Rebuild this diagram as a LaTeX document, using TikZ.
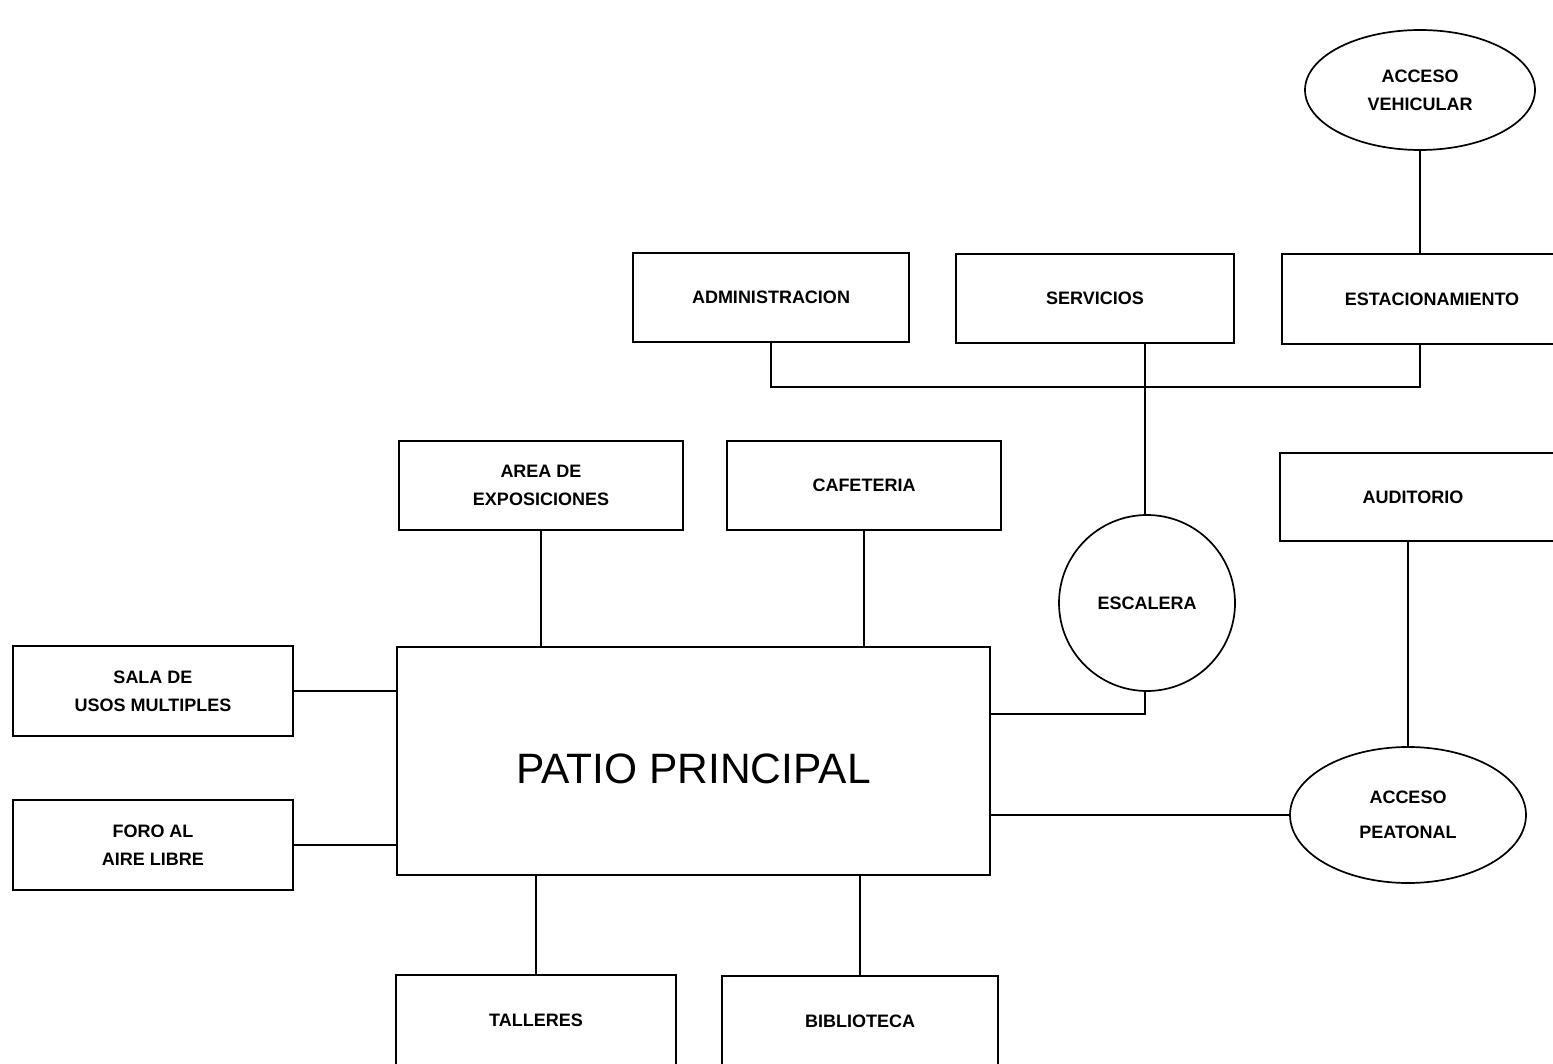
\documentclass[tikz,border=0pt]{standalone}
\usepackage{fontspec}
\setmainfont{Liberation Sans}
\usetikzlibrary{shapes.geometric}
\begin{document}
\begin{tikzpicture}[x=1pt,y=-1pt,
  every node/.style={line width=1.7pt, draw=black, inner sep=2pt},
  lbl/.style={font=\fontsize{18}{28}\selectfont\bfseries, align=center},
  box/.style={rectangle, lbl},
  oval/.style={ellipse, lbl},
  conn/.style={line width=1.7pt}]
\useasboundingbox (0,0) rectangle (1553,1064);
\clip (0,0) rectangle (1553,1064);
\fill[white] (0,0) rectangle (1553,1064);

% nodes
\node[oval, minimum width=230pt, minimum height=120pt] (av) at (1420,90) {ACCESO\\VEHICULAR};
\node[box, minimum width=276pt, minimum height=89pt] (adm) at (771,297.5) {ADMINISTRACION};
\node[box, minimum width=278pt, minimum height=89pt] (serv) at (1095,298.5) {SERVICIOS};
\node[box, minimum width=300pt, minimum height=90pt] (est) at (1432,299) {ESTACIONAMIENTO};
\node[box, minimum width=284pt, minimum height=89pt] (aex) at (541,485.5) {AREA DE\\EXPOSICIONES};
\node[box, minimum width=274pt, minimum height=89pt] (caf) at (864,485.5) {CAFETERIA};
\node[box, minimum width=300pt, minimum height=88pt] (aud) at (1430,497) {\hspace*{-34pt}AUDITORIO};
\node[circle, lbl, minimum size=176pt] (esc) at (1147,603) {ESCALERA};
\node[rectangle, minimum width=593pt, minimum height=228pt, font=\fontsize{42.5}{50}\selectfont] (patio) at (693.5,761) {\raisebox{-8pt}[\height][0pt]{PATIO PRINCIPAL}};
\node[box, minimum width=280pt, minimum height=90pt] (spm) at (153,691) {SALA DE\\USOS MULTIPLES};
\node[box, minimum width=280pt, minimum height=90pt] (foro) at (153,845) {FORO AL\\AIRE LIBRE};
\node[oval, minimum width=236pt, minimum height=136pt] (pea) at (1408,815) {ACCESO\\[7pt]PEATONAL};
\node[box, minimum width=280pt, minimum height=90pt] (tal) at (536,1020) {TALLERES};
\node[box, minimum width=276pt, minimum height=90pt] (bib) at (860,1021) {BIBLIOTECA};

% connectors
\coordinate (j1) at (1145,387);
\draw[conn] (av.south) -- (av.south |- est.north);
\draw[conn] (adm.south) |- (j1) -| (av.south |- est.south);
\draw[conn] (j1 |- serv.south) -- (j1 |- esc.north);
\draw[conn] (j1 |- esc.south) |- (patio.east |- 0,714);
\draw[conn] (patio.east |- pea.west) -- (pea.west);
\draw[conn] (pea.north |- aud.south) -- (pea.north);
\draw[conn] (aex.south) -- (aex.south |- patio.north);
\draw[conn] (caf.south) -- (caf.south |- patio.north);
\draw[conn] (spm.east) -- (spm.east -| patio.west);
\draw[conn] (foro.east) -- (foro.east -| patio.west);
\draw[conn] (tal.north |- patio.south) -- (tal.north);
\draw[conn] (bib.north |- patio.south) -- (bib.north);
\end{tikzpicture}
\end{document}
